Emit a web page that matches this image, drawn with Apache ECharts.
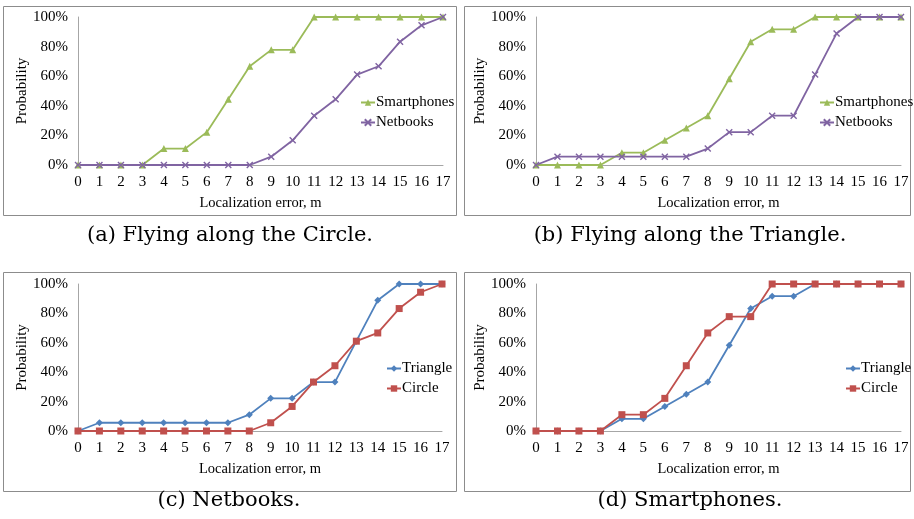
<!DOCTYPE html>
<html>
<head>
<meta charset="utf-8">
<script src="https://cdn.jsdelivr.net/npm/echarts@6/dist/echarts.min.js"></script>
<style>
  html, body { margin: 0; padding: 0; background: #fff; }
  #chart { width: 914px; height: 519px; }
</style>
</head>
<body>
<div id="chart"></div>
<script>
// localization error, m
var errors = ['0','1','2','3','4','5','6','7','8','9','10','11','12','13','14','15','16','17'];
var yTicks = [0, 0.2, 0.4, 0.6, 0.8, 1];

// cumulative probability
var circleSmart = [0,0,0,0,0.111,0.111,0.222,0.444,0.667,0.778,0.778,1,1,1,1,1,1,1];
var circleNet   = [0,0,0,0,0,0,0,0,0,0.056,0.167,0.333,0.444,0.611,0.667,0.833,0.944,1];
var triSmart    = [0,0,0,0,0.083,0.083,0.167,0.25,0.333,0.583,0.833,0.917,0.917,1,1,1,1,1];
var triNet      = [0,0.056,0.056,0.056,0.056,0.056,0.056,0.056,0.111,0.222,0.222,0.333,0.333,0.611,0.889,1,1,1];

var captions = ['(a) Flying along the Circle.', '(b) Flying along the Triangle.', '(c) Netbooks.', '(d) Smartphones.'];

var serif = '"Liberation Serif", "Times New Roman", serif';
var capFont = '"DejaVu Serif", serif';
var green = '#9bbb59', purple = '#8064a2', blue = '#4f81bd', red = '#c0504d';
var xMark = 'path://M0,0L10,10M10,0L0,10';

// plot rects: left, top, width, height
var panels = [
  {l: 78,  t: 17,  w: 365, h: 148},
  {l: 536, t: 17,  w: 365, h: 148},
  {l: 78,  t: 284, w: 364, h: 147},
  {l: 536, t: 284, w: 365, h: 147}
];
var boxes = [
  {x: 3,   y: 6,   w: 453, h: 209},
  {x: 464, y: 6,   w: 446, h: 209},
  {x: 3,   y: 272, w: 453, h: 219},
  {x: 464, y: 272, w: 446, h: 219}
];
var capPos = [[230, 236], [690, 236], [229, 501], [690, 501]];

function mkSeries(name, data, idx, color, symbol, size) {
  var s = {
    name: name, type: 'line', data: data,
    xAxisIndex: idx, yAxisIndex: idx,
    symbol: symbol, symbolSize: size,
    lineStyle: {color: color, width: 1.8},
    itemStyle: {color: color},
    animation: false
  };
  if (symbol === xMark) {
    s.itemStyle = {color: 'none', borderColor: color, borderWidth: 1.4};
  }
  return s;
}

var grids = [], xAxes = [], yAxes = [], legends = [], graphics = [];
panels.forEach(function (p, i) {
  grids.push({left: p.l, top: p.t, width: p.w, height: p.h});
  xAxes.push({
    type: 'category', gridIndex: i, data: errors, boundaryGap: false,
    name: 'Localization error, m', nameLocation: 'middle', nameGap: 31,
    nameTextStyle: {fontFamily: serif, fontSize: 14.5, color: '#000'},
    axisLine: {lineStyle: {color: '#a6a6a6'}},
    axisTick: {show: false},
    axisLabel: {fontFamily: serif, fontSize: 15, color: '#000', margin: 10, interval: 0}
  });
  yAxes.push({
    type: 'value', gridIndex: i, min: yTicks[0], max: yTicks[yTicks.length - 1], interval: 0.2,
    name: 'Probability', nameLocation: 'middle', nameGap: 48,
    nameTextStyle: {fontFamily: serif, fontSize: 15, color: '#000'},
    axisLine: {show: true, lineStyle: {color: '#a6a6a6'}},
    axisTick: {show: false},
    splitLine: {show: false},
    axisLabel: {fontFamily: serif, fontSize: 15, color: '#000', margin: 10,
      formatter: function (v) { return Math.round(v * 100) + '%'; }}
  });
  graphics.push({
    type: 'rect', silent: true,
    shape: {x: boxes[i].x + 0.5, y: boxes[i].y + 0.5, width: boxes[i].w, height: boxes[i].h},
    style: {fill: 'none', stroke: '#8c8c8c', lineWidth: 1}
  });
  graphics.push({
    type: 'text', silent: true, x: capPos[i][0], y: capPos[i][1],
    style: {text: captions[i], fontFamily: capFont, fontSize: 21, fill: '#000',
      textAlign: 'center', textVerticalAlign: 'middle'}
  });
});

var series = [
  mkSeries('Smartphones', circleSmart, 0, green, 'triangle', 7),
  mkSeries('Netbooks', circleNet, 0, purple, xMark, 6),
  mkSeries('Smartphones', triSmart, 1, green, 'triangle', 7),
  mkSeries('Netbooks', triNet, 1, purple, xMark, 6),
  mkSeries('Triangle', triNet, 2, blue, 'diamond', 7),
  mkSeries('Circle', circleNet, 2, red, 'rect', 7),
  mkSeries('Triangle', triSmart, 3, blue, 'diamond', 7),
  mkSeries('Circle', circleSmart, 3, red, 'rect', 7)
];

function mkLegend(names, left, top) {
  return {
    data: names, left: left, top: top, orient: 'vertical',
    itemWidth: 14, itemHeight: 8, itemGap: 5, selectedMode: false,
    textStyle: {fontFamily: serif, fontSize: 15, color: '#000', padding: [0, 0, 0, -4]}
  };
}
legends.push(mkLegend(['Smartphones', 'Netbooks'], 355, 90));
legends.push(mkLegend(['Smartphones', 'Netbooks'], 814, 90));
legends.push(mkLegend(['Triangle', 'Circle'], 381, 356));
legends.push(mkLegend(['Triangle', 'Circle'], 840, 356));

var chart = echarts.init(document.getElementById('chart'));
chart.setOption({
  backgroundColor: '#fff',
  animation: false,
  grid: grids,
  xAxis: xAxes,
  yAxis: yAxes,
  legend: legends,
  series: series,
  graphic: graphics
});
</script>
</body>
</html>
